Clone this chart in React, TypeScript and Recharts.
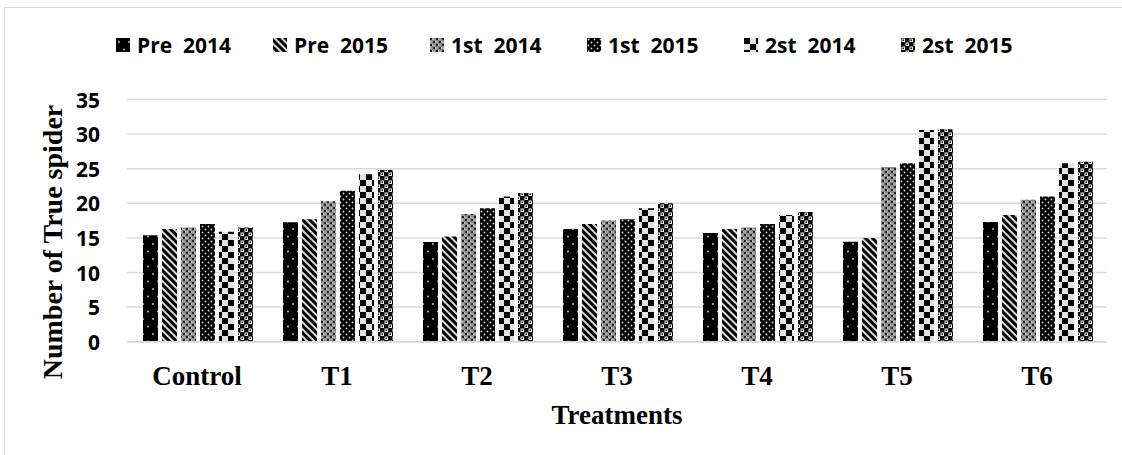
import React from 'react';
import { BarChart, Bar, XAxis, YAxis, CartesianGrid } from 'recharts';

const categories = ['Control', 'T1', 'T2', 'T3', 'T4', 'T5', 'T6'];
const pre2014 = [15.4, 17.25, 14.4, 16.3, 15.7, 14.45, 17.3];
const pre2015 = [16.3, 17.7, 15.2, 17.0, 16.3, 15.0, 18.3];
const first2014 = [16.5, 20.3, 18.45, 17.5, 16.5, 25.25, 20.5];
const first2015 = [17.0, 21.8, 19.3, 17.7, 17.0, 25.8, 21.0];
const second2014 = [15.9, 24.2, 21.0, 19.3, 18.3, 30.6, 25.8];
const second2015 = [16.5, 24.8, 21.5, 20.0, 18.75, 30.7, 26.0];
const seriesNames = ['Pre  2014', 'Pre  2015', '1st  2014', '1st  2015', '2st  2014', '2st  2015'];
const yTicks = [0, 5, 10, 15, 20, 25, 30, 35];

const seriesValues = [pre2014, pre2015, first2014, first2015, second2014, second2015];
const seriesKeys = ['s0', 's1', 's2', 's3', 's4', 's5'];
const patternIds = ['pat0', 'pat1', 'pat2', 'pat3', 'pat4', 'pat5'];

const data = categories.map((c, i) => {
  const row: Record<string, any> = { name: c };
  seriesKeys.forEach((k, j) => {
    row[k] = seriesValues[j][i];
  });
  return row;
});

const SANS = '"Open Sans", "Noto Sans", sans-serif';
const SERIF = '"Liberation Serif", "Times New Roman", serif';

function Patterns() {
  return (
    <svg width={0} height={0} style={{ position: 'absolute', left: 0, top: 0 }}>
      <defs>
        <pattern id="pat0" patternUnits="userSpaceOnUse" width={10} height={15}>
          <rect width={10} height={15} fill="#000" />
          <circle cx={3} cy={4} r={0.9} fill="#ccc" />
          <circle cx={8} cy={11.5} r={0.9} fill="#ccc" />
        </pattern>
        <pattern id="pat1" patternUnits="userSpaceOnUse" width={5} height={5} patternTransform="rotate(-45)">
          <rect width={5} height={5} fill="#000" />
          <rect x={0} y={0} width={2} height={5} fill="#d8d8d8" />
        </pattern>
        <pattern id="pat2" patternUnits="userSpaceOnUse" width={6} height={6}>
          <rect width={6} height={6} fill="#8a8a8a" />
          <rect x={0} y={0} width={2} height={2} fill="#222" />
          <rect x={3} y={3} width={2} height={2} fill="#222" />
          <rect x={2} y={0.5} width={1} height={1} fill="#eee" />
          <rect x={0.5} y={3.5} width={1} height={1} fill="#eee" />
          <rect x={5} y={3.5} width={1} height={1} fill="#eee" />
          <rect x={3.5} y={1} width={1} height={1} fill="#ddd" />
        </pattern>
        <pattern id="pat3" patternUnits="userSpaceOnUse" width={6} height={6}>
          <rect width={6} height={6} fill="#000" />
          <circle cx={1.5} cy={1.5} r={0.9} fill="#ddd" />
          <circle cx={4.5} cy={4.5} r={0.9} fill="#ddd" />
        </pattern>
        <pattern id="pat4" patternUnits="userSpaceOnUse" width={12} height={12}>
          <rect width={12} height={12} fill="#e2e2e2" />
          <rect x={0} y={0} width={6} height={6} fill="#000" />
          <rect x={6} y={6} width={6} height={6} fill="#000" />
        </pattern>
        <pattern id="pat5" patternUnits="userSpaceOnUse" width={8} height={8}>
          <rect width={8} height={8} fill="#000" />
          <rect x={1} y={1} width={2.5} height={2.5} fill="none" stroke="#f0f0f0" strokeWidth={1} />
          <rect x={5} y={5} width={2.5} height={2.5} fill="none" stroke="#f0f0f0" strokeWidth={1} />
        </pattern>
      </defs>
    </svg>
  );
}

const XTick = (props: any) => {
  const { x, payload } = props;
  return (
    <text x={x} y={385} textAnchor="middle" fontFamily={SERIF} fontWeight="bold" fontSize={27} fill="#000">
      {payload.value}
    </text>
  );
};

const YTick = (props: any) => {
  const { y, payload } = props;
  return (
    <text x={100} y={y} textAnchor="end" dominantBaseline="central" fontFamily={SANS} fontWeight="bold" fontSize={21} fill="#000">
      {payload.value}
    </text>
  );
};

export default function App() {
  return (
    <div style={{ position: 'absolute', left: 0, top: 0, width: 1122, height: 455, background: '#fff', overflow: 'hidden' }}>
      <Patterns />
      <div
        style={{
          position: 'absolute',
          left: 4,
          top: 7,
          width: 1200,
          height: 500,
          borderTop: '1.5px solid #d9d9d9',
          borderLeft: '1.5px solid #d9d9d9',
        }}
      />
      <BarChart
        width={1122}
        height={455}
        data={data}
        margin={{ top: 99.5, right: 15, bottom: 53.3, left: 0 }}
        barGap={4}
        barCategoryGap={16}
      >
        <CartesianGrid vertical={false} stroke="#d9d9d9" strokeWidth={1.5} />
        <XAxis
          dataKey="name"
          height={60}
          tickLine={false}
          axisLine={{ stroke: '#d9d9d9', strokeWidth: 1.5 }}
          tick={<XTick />}
          interval={0}
        />
        <YAxis
          width={127}
          domain={[0, 35]}
          ticks={yTicks}
          axisLine={false}
          tickLine={false}
          tick={<YTick />}
          interval={0}
        />
        {seriesKeys.map((k, j) => (
          <Bar key={k} dataKey={k} name={seriesNames[j]} fill={`url(#${patternIds[j]})`} isAnimationActive={false} />
        ))}
      </BarChart>
      <svg width={1122} height={455} style={{ position: 'absolute', left: 0, top: 0, pointerEvents: 'none' }}>
        <text
          transform="translate(62,242) rotate(-90)"
          textAnchor="middle"
          fontFamily={SERIF}
          fontWeight="bold"
          fontSize={28}
          fill="#000"
        >
          Number of True spider
        </text>
        <text x={617} y={424} textAnchor="middle" fontFamily={SERIF} fontWeight="bold" fontSize={27} fill="#000">
          Treatments
        </text>
      </svg>
      <div style={{ position: 'absolute', left: 116, top: 33, display: 'flex', height: 24, alignItems: 'center' }}>
        {seriesNames.map((n, j) => (
          <div key={n} style={{ width: 157, display: 'flex', alignItems: 'center' }}>
            <svg width={14} height={14} style={{ display: 'block' }}>
              <rect width={14} height={14} fill={`url(#${patternIds[j]})`} />
            </svg>
            <span
              style={{
                marginLeft: 7,
                fontFamily: SANS,
                fontWeight: 'bold',
                fontSize: 21,
                whiteSpace: 'pre',
                color: '#000',
                lineHeight: '24px',
              }}
            >
              {n}
            </span>
          </div>
        ))}
      </div>
    </div>
  );
}
